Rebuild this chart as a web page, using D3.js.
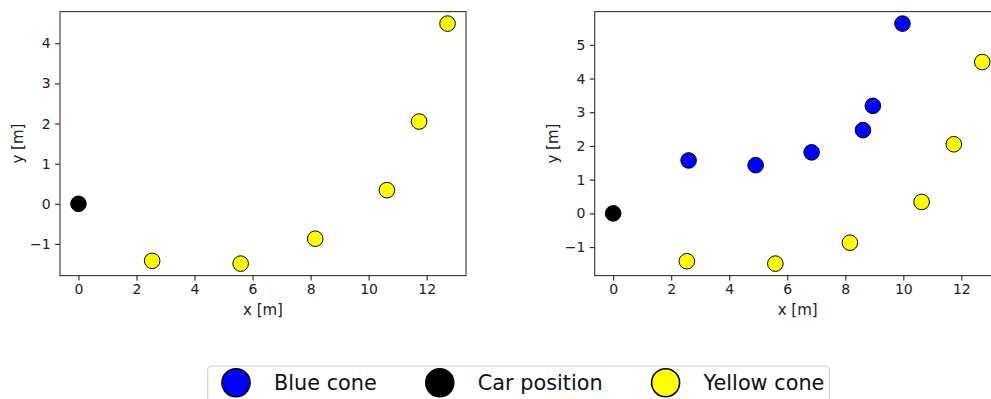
<!DOCTYPE html>
<html>
<head>
<meta charset="utf-8">
<script src="https://cdn.jsdelivr.net/npm/d3@7"></script>
<style>
  body { margin: 0; background: #fff; }
  svg { display: block; font-family: "DejaVu Sans", sans-serif; }
</style>
</head>
<body>
<svg id="chart" width="991" height="399"></svg>
<script>
// cone positions
const carX = [0];
const carY = [0];
const yellowX = [2.54, 5.59, 8.16, 10.63, 11.74, 12.72];
const yellowY = [-1.42, -1.49, -0.87, 0.34, 2.05, 4.49];
const blueX = [2.60, 4.91, 6.84, 8.61, 8.95, 9.97];
const blueY = [1.57, 1.43, 1.81, 2.47, 3.19, 5.63];

const xTicks = [0, 2, 4, 6, 8, 10, 12];
const yTicksLeft = [-1, 0, 1, 2, 3, 4];
const yTicksRight = [-1, 0, 1, 2, 3, 4, 5];

const legendLabels = ['Blue cone', 'Car position', 'Yellow cone'];
const legendColors = ['#0000ff', '#000000', '#ffff00'];

const svg = d3.select('#chart');

const zip = (xs, ys) => xs.map((x, i) => ({ x, y: ys[i] }));

// matplotlib style auto limits with 5% margin
function padExtent(vals) {
  const [lo, hi] = d3.extent(vals);
  const m = (hi - lo) * 0.05;
  return [lo - m, hi + m];
}

function drawPanel(left, series, yTicks) {
  const top = 11.6, bottom = 275.6, width = 406;
  const allX = series.flatMap((s) => s.data.map((d) => d.x));
  const allY = series.flatMap((s) => s.data.map((d) => d.y));

  const x = d3.scaleLinear().domain(padExtent(allX)).range([left, left + width]);
  const y = d3.scaleLinear().domain(padExtent(allY)).range([bottom, top]);
  const fmt = d3.format('d');

  const g = svg.append('g');

  g.append('rect')
    .attr('x', left)
    .attr('y', top)
    .attr('width', width)
    .attr('height', bottom - top)
    .attr('fill', 'none')
    .attr('stroke', '#333')
    .attr('stroke-width', 1.1);

  const xAxis = g.append('g')
    .attr('transform', `translate(0,${bottom})`)
    .call(d3.axisBottom(x).tickValues(xTicks).tickFormat(fmt).tickSize(4.9).tickPadding(3.5));
  const yAxis = g.append('g')
    .attr('transform', `translate(${left},0)`)
    .call(d3.axisLeft(y).tickValues(yTicks).tickFormat(fmt).tickSize(4.9).tickPadding(4.5));

  [xAxis, yAxis].forEach((a) => {
    a.select('.domain').remove();
    a.selectAll('line').attr('stroke', '#222').attr('stroke-width', 1.1);
    a.selectAll('text')
      .attr('font-family', 'DejaVu Sans')
      .attr('font-size', 14)
      .attr('fill', '#222');
  });

  g.append('text')
    .attr('x', left + width / 2)
    .attr('y', 315)
    .attr('text-anchor', 'middle')
    .attr('font-size', 15)
    .attr('fill', '#222')
    .text('x [m]');

  g.append('text')
    .attr('transform', `translate(${left - 37},${(top + bottom) / 2}) rotate(-90)`)
    .attr('text-anchor', 'middle')
    .attr('font-size', 15)
    .attr('fill', '#222')
    .text('y [m]');

  series.forEach((s) => {
    g.append('g')
      .selectAll('circle')
      .data(s.data)
      .enter()
      .append('circle')
      .attr('cx', (d) => x(d.x))
      .attr('cy', (d) => y(d.y))
      .attr('r', 7.8)
      .attr('fill', s.color)
      .attr('stroke', '#000')
      .attr('stroke-width', 1);
  });
}

drawPanel(60, [
  { color: '#000000', data: zip(carX, carY) },
  { color: '#ffff00', data: zip(yellowX, yellowY) },
], yTicksLeft);

drawPanel(594.7, [
  { color: '#000000', data: zip(carX, carY) },
  { color: '#0000ff', data: zip(blueX, blueY) },
  { color: '#ffff00', data: zip(yellowX, yellowY) },
], yTicksRight);

// legend
const legend = svg.append('g');
const frame = legend.append('rect')
  .attr('x', 207.7)
  .attr('y', 366)
  .attr('height', 60)
  .attr('rx', 4)
  .attr('fill', '#fff')
  .attr('stroke', '#d0d0d0')
  .attr('stroke-width', 1.2);

let cursor = 207.7 + 28.3;
legendLabels.forEach((label, i) => {
  legend.append('circle')
    .attr('cx', cursor)
    .attr('cy', 382.7)
    .attr('r', 14)
    .attr('fill', legendColors[i])
    .attr('stroke', '#000')
    .attr('stroke-width', 1.6);
  const t = legend.append('text')
    .attr('x', cursor + 38)
    .attr('y', 390)
    .attr('font-size', 20.8)
    .attr('fill', '#111')
    .text(label);
  const w = t.node().getComputedTextLength();
  if (i < legendLabels.length - 1) cursor = cursor + 38 + w + 63;
  else frame.attr('width', cursor + 38 + w + 5 - 207.7);
});
</script>
</body>
</html>
